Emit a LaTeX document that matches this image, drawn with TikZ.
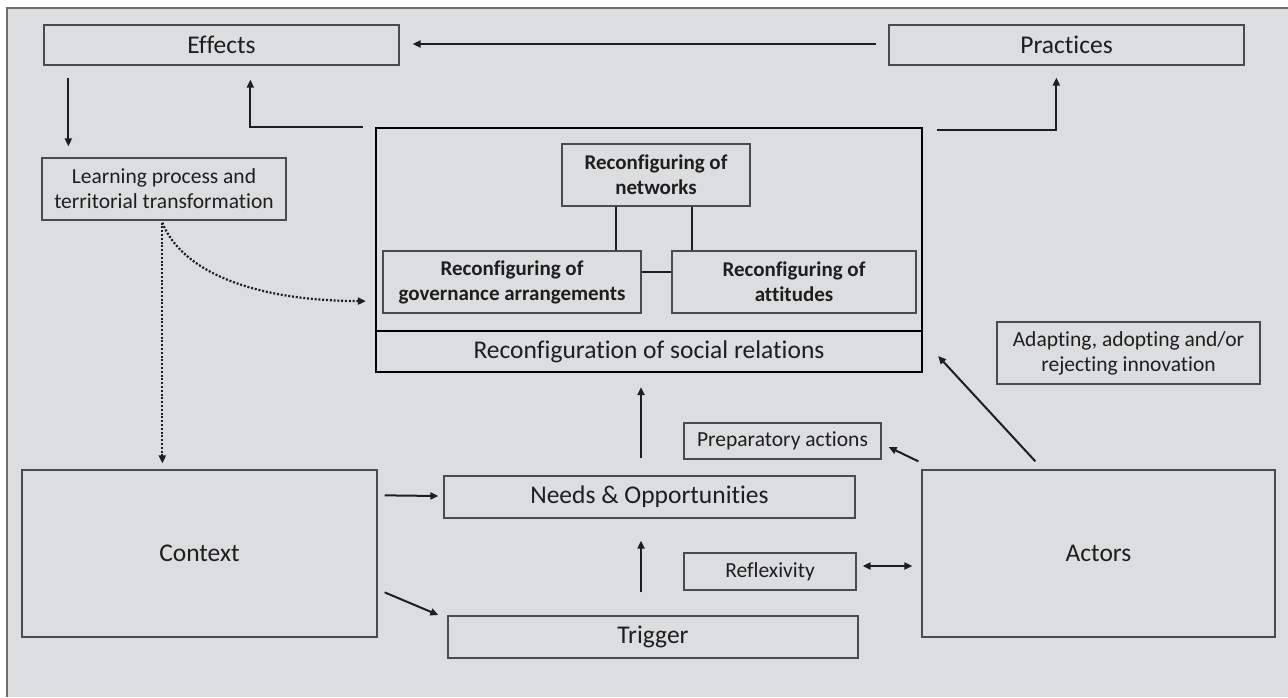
\documentclass[tikz,border=0pt]{standalone}
\usepackage{fontspec}
\setmainfont[Ligatures={NoCommon}]{Carlito}
\usetikzlibrary{arrows.meta,calc}
\definecolor{bg}{RGB}{220,221,223}
\definecolor{frame}{RGB}{110,110,110}
\definecolor{boxline}{RGB}{75,75,75}
\definecolor{ink}{RGB}{30,30,30}
\tikzset{
  box/.style={draw=boxline, line width=1.3pt, inner sep=0pt, align=center, text=ink},
  bigfont/.style={font=\fontsize{25.5}{30}\selectfont},
  smallfont/.style={font=\fontsize{21.5}{25}\selectfont},
  boldfont/.style={font=\fontsize{21}{25}\selectfont\bfseries},
  thickbox/.style={draw=black, line width=2.2pt, inner sep=0pt, align=center, text=ink},
  arr/.style={draw=ink, line width=2pt, -{Triangle[length=8pt,width=7pt]}},
  darr/.style={draw=ink, line width=2pt, {Triangle[length=8pt,width=7pt]}-{Triangle[length=8pt,width=7pt]}},
  link/.style={draw=ink, line width=2pt},
  dots/.style={draw=ink, line width=2.2pt, dash pattern=on 2pt off 1.8pt, -{Triangle[length=8pt,width=7pt]}}
}
\begin{document}
\begin{tikzpicture}[x=1pt,y=-1pt]
\useasboundingbox (0,0) rectangle (1288,697);
\fill[bg] (7,8) rectangle (1288,697);
\draw[frame, line width=1.5pt] (7,697) -- (7,8) -- (1288,8);

% top row
\node[box,bigfont,minimum width=355pt,minimum height=40pt] (eff) at (221.5,45) {Effects};
\node[box,bigfont,minimum width=355pt,minimum height=40pt] (prac) at (1066.5,45) {Practices};
\node[box,smallfont,minimum width=244pt,minimum height=62pt] (learn) at (164,189) {Learning process and\\territorial transformation};

% big box
\node[thickbox,minimum width=546pt,minimum height=203pt] (big) at (649,229.5) {};
\node[thickbox,bigfont,minimum width=546pt,minimum height=41pt] (rel) at (649,351.5) {Reconfiguration of social relations};
\node[box,boldfont,minimum width=188pt,minimum height=62pt] (net) at (656,175) {Reconfiguring of\\networks};
\node[box,boldfont,minimum width=258pt,minimum height=62pt] (gov) at (512,282) {Reconfiguring of\\governance arrangements};
\node[box,boldfont,minimum width=244pt,minimum height=62pt] (att) at (794,282) {Reconfiguring of\\attitudes};

% right side
\node[box,smallfont,minimum width=263pt,minimum height=62pt] (adapt) at (1128.5,353) {Adapting, adopting and/or\\rejecting innovation};
\node[box,bigfont,minimum width=355pt,minimum height=167pt] (ctx) at (199.5,553.5) {Context};
\node[box,bigfont,minimum width=353pt,minimum height=167pt] (act) at (1098.5,553.5) {Actors};
\node[box,bigfont,minimum width=411pt,minimum height=42pt] (needs) at (649.5,497) {Needs \& Opportunities};
\node[box,bigfont,minimum width=410pt,minimum height=42pt] (trig) at (653,637) {Trigger};
\node[box,smallfont,minimum width=197pt,minimum height=36pt] (prep) at (782.5,441) {Preparatory actions};
\node[box,smallfont,minimum width=172pt,minimum height=37pt] (refl) at (770,571.5) {Reflexivity};

% inner links
\draw[link] ($(net.south west)+(55,0)$) -- ($(gov.north west)+(234,0)$);
\draw[link] ($(net.south west)+(131,0)$) -- ($(att.north west)+(21,0)$);
\draw[link] ($(gov.east)+(0,-10)$) -- ($(att.west)+(0,-10)$);

% arrows
\draw[arr] ($(prac.west)+(-12,-1)$) -- ($(eff.east)+(13,-1)$);
\draw[arr] ($(eff.south west)+(25,12)$) -- ($(learn.north west)+(27,-11)$);
\draw[arr] ($(big.north west)+(-12,0)$) -| ($(eff.south west)+(207,14)$);
\draw[arr] ($(big.north east)+(14,3)$) -| ($(prac.south west)+(168,12)$);
\draw[dots] ($(learn.south west)+(121,2)$) -- ($(ctx.north west)+(141,-6)$);
\draw[dots] ($(learn.south west)+(121,2)$) .. controls ($(learn.south west)+(140,50)$) and ($(learn.south west)+(210,80)$) .. ($(big.south west)+(-9,-31)$);
\draw[arr] ($(ctx.north east)+(7,26)$) -- ($(needs.west)+(-5,-1)$);
\draw[arr] ($(ctx.north east)+(7,123)$) -- ($(trig.west)+(-9,-22)$);
\draw[arr] ($(trig.north)+(-12,-23)$) -- ($(needs.south)+(-8.5,22)$);
\draw[arr] ($(needs.north)+(-8.5,-17)$) -- ($(rel.south)+(-8,14)$);
\draw[arr] ($(act.north west)+(-3,-8)$) -- ($(prep.east)+(7,6)$);
\draw[arr] ($(act.north west)+(114,-8)$) -- ($(rel.east)+(15,4.5)$);
\draw[darr] ($(refl.east)+(6,-5.5)$) -- ($(act.west)+(-9,12.5)$);
\end{tikzpicture}
\end{document}
